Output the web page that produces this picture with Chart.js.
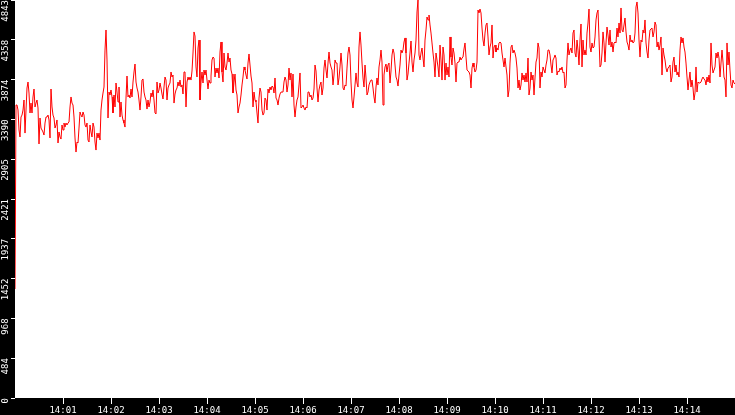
<!DOCTYPE html>
<html>
<head>
<meta charset="utf-8">
<script src="https://cdn.jsdelivr.net/npm/chart.js@4/dist/chart.umd.min.js"></script>
<style>
  html, body { margin: 0; padding: 0; background: #000; }
  #wrap { width: 735px; height: 415px; }
</style>
</head>
<body>
<div id="wrap"><canvas id="rateChart" width="735" height="415"></canvas></div>
<script>
// one reading every 1.25 s, starting 14:00:00
const sampleSeconds = 1.25

// readings, split in 8 chunks of 90 (1:52.5 each)
const seg1 = [1326,3565,3565,3504,3261,3176,3419,3443,3504,3626,3224,3504,3772,3845,3711,3468,3589,3468,3663,3760,3541,3589,3626,3529,3091,3407,3285,3261,3237,3200,3346,3419,3419,3443,3383,3164,3760,3541,3443,3407,3285,3322,3383,3103,3237,3176,3151,3322,3261,3346,3297,3346,3322,3346,3358,3541,3663,3589,3565,3419,3164,2993,3115,3103,3285,3480,3443,3419,3480,3443,3322,3297,3346,3139,3115,3322,3237,3176,3346,3297,3115,3017,3224,3164,3224,3139,3504,3626,3711,3784]
const seg2 = [4234,4478,4113,3407,3723,3687,3748,3663,3468,3687,3541,3833,3723,3602,3784,3419,3602,3443,3383,3346,3297,3650,3918,3663,3687,3650,3760,3663,3845,3967,4064,3845,3772,3723,3626,3504,3663,3869,3882,3723,3663,3626,3516,3626,3541,3602,3711,3663,3748,3626,3468,3456,3845,3711,3748,3833,3772,3699,3638,3784,3906,3869,3626,3772,3809,3833,3967,3906,3930,3589,3699,3748,3772,3845,3796,3869,3784,3809,3699,3967,3967,3541,3845,3906,3869,3906,3869,3979,4198,4454]
const seg3 = [4405,4028,3906,4259,4356,3626,3845,3967,3833,3991,3930,3991,3869,3760,3869,3833,3918,4113,4149,4137,3906,4015,3955,4015,3894,4210,4332,3967,3845,4198,4028,3991,4076,4198,4088,4137,3991,3942,3711,3845,3942,3748,3687,3468,3541,3589,3687,3809,3906,4028,3991,3930,3882,4076,4186,4052,3918,3833,3541,3723,3626,3602,3468,3346,3650,3772,3723,3504,3443,3468,3650,3626,3504,3760,3711,3784,3748,3796,3784,3711,3894,3650,3626,3565,3650,3699,3723,3723,3723,3845]
const seg4 = [3906,3869,3723,3809,4015,3869,3955,3663,3942,3565,3419,3541,3626,3663,3809,3955,3529,3541,3565,3529,3504,3541,3529,3723,3723,3663,3687,3626,3650,3760,4052,3979,3772,3602,3748,3809,3845,3687,3772,4015,4113,3991,3894,4076,4210,4076,4028,3991,3809,3930,4113,4076,4076,3809,3894,4028,4198,4052,3772,3748,3809,3796,4015,4198,4271,4174,3845,3626,3529,3663,3809,3955,3833,3784,4271,4454,4295,4076,3894,3784,4052,3894,3687,3723,3809,3845,3869,3869,3772,3663]
const seg5 = [3589,3784,3894,3809,4028,4113,4234,4088,3565,3930,4028,4064,3967,4052,4076,3833,3979,4174,4247,4198,4052,3906,3869,3796,3930,4052,4234,4198,4234,4332,4381,4198,3869,3942,4076,4198,4344,4088,3967,4113,4198,4356,4697,4843,4174,4113,4198,4259,4137,4028,4356,4478,4636,4600,4660,4539,4441,4320,4198,4088,3906,4198,4113,4028,3906,4295,4113,3869,4271,4174,3869,4076,3930,4028,3906,4393,4149,4052,4259,4198,4076,3845,4076,4088,4088,4149,4113,4137,4149,4247]
const seg6 = [4320,4149,3991,3979,3967,3930,3772,4015,4076,4028,3967,3991,4088,4721,4685,4733,4685,4502,4356,4283,4441,4539,4563,4393,4174,4271,4320,4539,4137,4271,4295,4210,4259,4234,4320,4332,4320,4198,4113,4028,4137,4028,3930,3663,3748,4076,4271,4295,4198,4234,4198,4137,4015,3772,3869,3748,3809,3955,3869,3930,3845,3955,3845,4137,3687,3772,3967,3869,3930,3687,3894,4088,4137,4320,4259,3772,3967,3906,4028,3991,3955,4052,4113,4234,4234,4174,4052,3955,4113,4137]
const seg7 = [4174,4137,3930,3979,3967,4015,3991,4028,3955,3967,3772,3809,4113,4320,4174,4234,4259,4198,4441,4478,4198,4149,4356,4234,4052,4356,4551,4028,4356,4174,4234,4174,4441,4563,4733,4271,4210,4320,4259,4271,4393,4600,4685,4721,4381,4028,4052,4198,4454,4320,4088,4320,4514,4417,4295,4478,4271,4332,4210,4320,4332,4320,4502,4393,4563,4441,4746,4478,4454,4539,4624,4454,4332,4295,4234,4417,4332,4356,4320,4332,4441,4758,4819,4685,4356,4149,4356,4332,4478,4441]
const seg8 = [4600,4320,4210,4137,4356,4478,4490,4502,4393,4454,4575,4539,4271,4332,4234,4295,4393,3930,4259,4174,4113,4015,3967,4015,4028,4052,3845,3906,4088,4149,3967,4052,3930,3967,3906,4234,4393,4320,4381,4271,4210,4076,3906,3748,3869,3967,3784,3869,3772,3626,3711,4028,3723,3845,3833,3833,3845,3882,3906,3882,3869,3809,3906,3845,3930,3833,4320,4052,3955,3991,4028,4198,4137,4210,4137,3906,4076,4234,4088,3906,3869,3663,4320,4052,4210,3991,3809,3772,3869,3833,3821]

// axes
const xTickSeconds = [60,120,180,240,300,360,420,480,540,600,660,720,780,840]
const xTickLabels = ['14:01','14:02','14:03','14:04','14:05','14:06','14:07','14:08','14:09','14:10','14:11','14:12','14:13','14:14']
const yTickValues = [0,484.3,968.6,1452.9,1937.2,2421.5,2905.8,3390.1,3874.4,4358.7,4843]
const yTickLabels = ['0','484','968','1452','1937','2421','2905','3390','3874','4358','4843']

const series = [].concat(seg1, seg2, seg3, seg4, seg5, seg6, seg7, seg8)
const points = series.map(function(v, i){ return {x: i * sampleSeconds, y: v} })

// black canvas, white plot area
const plotBg = {
  id: 'plotBg',
  beforeDraw: function(chart){
    const ctx = chart.ctx
    const a = chart.chartArea
    ctx.save()
    ctx.fillStyle = '#000'
    ctx.fillRect(0, 0, chart.width, chart.height)
    ctx.fillStyle = '#fff'
    ctx.fillRect(a.left, a.top, a.right - a.left, a.bottom - a.top)
    ctx.restore()
  }
}

const tickFont = { family: 'DejaVu Sans Mono', size: 9 }

const config = {
  type: 'line',
  data: {
    datasets: [{
      data: points,
      borderColor: '#ff0000',
      borderWidth: 1,
      pointRadius: 0,
      tension: 0,
      fill: false
    }]
  },
  options: {
    responsive: false,
    animation: false,
    devicePixelRatio: 1,
    layout: { padding: 0 },
    plugins: {
      legend: { display: false },
      tooltip: { enabled: false }
    },
    scales: {
      x: {
        type: 'linear',
        min: 0,
        max: 900,
        afterBuildTicks: function(scale){
          scale.ticks = xTickSeconds.map(function(s){ return {value: s} })
        },
        afterFit: function(scale){
          scale.height = 17
          scale.paddingLeft = 0
          scale.paddingRight = 0
        },
        ticks: {
          autoSkip: false,
          maxRotation: 0,
          padding: 1,
          color: '#fff',
          font: tickFont,
          callback: function(value, index){ return xTickLabels[index] }
        },
        grid: {
          drawOnChartArea: false,
          drawTicks: true,
          tickLength: 6,
          color: '#fff'
        },
        border: { display: false }
      },
      y: {
        min: 0,
        max: 4843,
        afterBuildTicks: function(scale){
          scale.ticks = yTickValues.map(function(v){ return {value: v} })
        },
        afterFit: function(scale){
          scale.width = 15
          scale.paddingTop = 0
          scale.paddingBottom = 0
        },
        ticks: {
          autoSkip: false,
          minRotation: 90,
          maxRotation: 90,
          padding: 5,
          color: '#fff',
          font: tickFont,
          callback: function(value, index){ return yTickLabels[index] }
        },
        grid: {
          drawOnChartArea: false,
          drawTicks: true,
          tickLength: 4,
          color: '#fff'
        },
        border: { display: false }
      }
    }
  },
  plugins: [plotBg]
}

const rateChart = new Chart(document.getElementById('rateChart'), config)
</script>
</body>
</html>
